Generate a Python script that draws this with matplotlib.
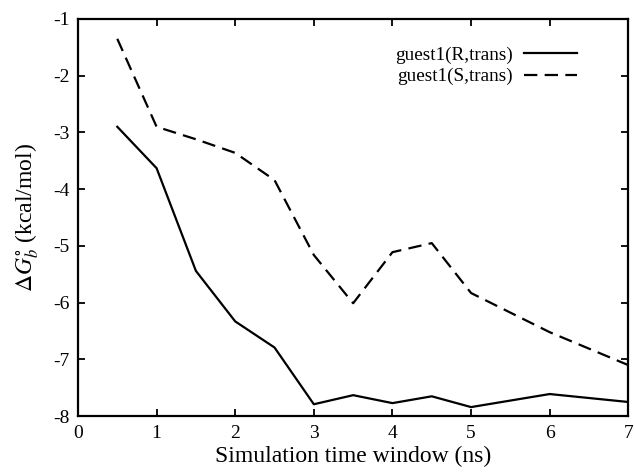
import matplotlib
matplotlib.use("Agg")
import matplotlib.pyplot as plt

plt.rcParams['font.family'] = ['Liberation Serif', 'DejaVu Serif']
plt.rcParams['mathtext.fontset'] = 'stix'
plt.rcParams['axes.unicode_minus'] = False

x_R = [0.5, 1, 1.5, 2, 2.5, 3, 3.5, 4, 4.5, 5, 6, 7]
y_R = [-2.90, -3.63, -5.44, -6.33, -6.79, -7.79, -7.63, -7.77, -7.65, -7.84, -7.61, -7.75]
x_S = [0.5, 1, 1.5, 2, 2.5, 3, 3.5, 4, 4.5, 5, 6, 7]
y_S = [-1.35, -2.90, -3.12, -3.36, -3.84, -5.16, -6.01, -5.11, -4.95, -5.83, -6.52, -7.10]
labels = ['guest1(R,trans)', 'guest1(S,trans)']

fig = plt.figure(figsize=(6.34, 4.74), dpi=100)
ax = fig.add_axes([0.123, 0.122, 0.868, 0.838])
ax.plot(x_R, y_R, color='black', lw=1.6, ls='-', label=labels[0])
ax.plot(x_S, y_S, color='black', lw=1.6, ls=(0, (6, 3.3)), label=labels[1])

ax.set_xlim(0, 7)
ax.set_ylim(-8, -1)
ax.set_xticks(range(0, 8))
ax.set_yticks(range(-8, 0))
ax.tick_params(direction='in', top=True, right=True, labelsize=14, length=5, width=1.3, pad=6)
for s in ax.spines.values():
    s.set_linewidth(1.6)

ax.set_xlabel('Simulation time window (ns)', fontsize=17, labelpad=3)
ax.set_ylabel(r'$\Delta G^{\circ}_{b}$ (kcal/mol)', fontsize=17, labelpad=9)

ax.legend(loc='upper right', bbox_to_anchor=(0.92, 0.95), frameon=False, markerfirst=False,
          fontsize=13.8, handlelength=2.75, handletextpad=0.6, labelspacing=0.2, borderaxespad=0)

fig.savefig('out.png', dpi=100)
